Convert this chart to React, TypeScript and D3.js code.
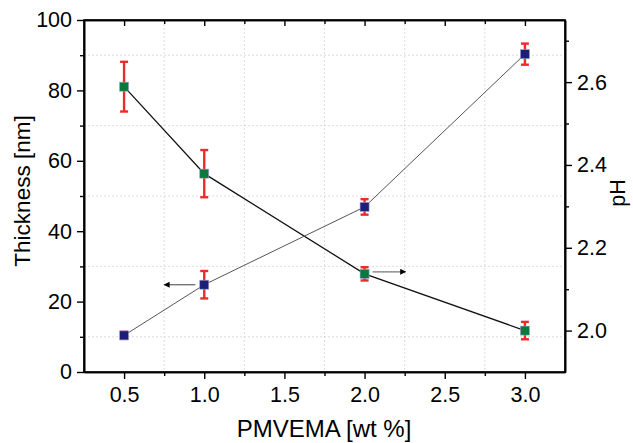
import React, { useEffect, useRef } from "react";
import * as d3 from "d3";

// PMVEMA concentration [wt %]
const conc = [0.5, 1.0, 2.0, 3.0];
// film thickness [nm] (left axis)
const thickness = [10.4, 24.8, 46.9, 90.3];
const thicknessErr = [1.0, 3.9, 2.2, 3.0];
// pH of solution (right axis)
const ph = [2.589, 2.379, 2.137, 2.0];
const phErr = [0.06, 0.057, 0.016, 0.021];

const xTicks = [0.5, 1.0, 1.5, 2.0, 2.5, 3.0];
const xMinor = [0.75, 1.25, 1.75, 2.25, 2.75];
const yTicks = [0, 20, 40, 60, 80, 100];
const yMinor = [10, 30, 50, 70, 90];
const phTicks = [2.0, 2.2, 2.4, 2.6];
const phMinor = [2.1, 2.3, 2.5, 2.7];

const W = 633;
const H = 443;
const margin = { top: 20, right: 68, bottom: 71, left: 84 };
const FONT = "'Liberation Sans', Arial, sans-serif";

export default function App() {
  const svgRef = useRef<SVGSVGElement>(null);

  useEffect(() => {
    const svg = d3.select(svgRef.current);
    svg.selectAll("*").remove();

    const x = d3
      .scaleLinear()
      .domain([0.25, 3.25])
      .range([margin.left, W - margin.right]);
    const y = d3
      .scaleLinear()
      .domain([0, 100])
      .range([H - margin.bottom, margin.top]);
    const yPh = d3
      .scaleLinear()
      .domain([1.9, 2.75])
      .range([H - margin.bottom, margin.top]);

    // dotted grid at minor positions
    const grid = svg.append("g").attr("stroke", "#d4d4d4").attr("stroke-width", 0.8).attr("stroke-dasharray", "2,2");
    grid
      .selectAll("line.v")
      .data(xMinor)
      .join("line")
      .attr("class", "v")
      .attr("x1", (d) => x(d))
      .attr("x2", (d) => x(d))
      .attr("y1", margin.top)
      .attr("y2", H - margin.bottom);
    grid
      .selectAll("line.h")
      .data(yMinor)
      .join("line")
      .attr("class", "h")
      .attr("x1", margin.left)
      .attr("x2", W - margin.right)
      .attr("y1", (d) => y(d))
      .attr("y2", (d) => y(d));

    // axes
    const axisStyle = (g: any) => {
      g.selectAll("path").attr("stroke", "#000").attr("stroke-width", 1.6);
      g.selectAll("line").attr("stroke", "#000").attr("stroke-width", 1.4);
      g.selectAll("text").attr("font-family", FONT).attr("font-size", 21.5).attr("fill", "#000");
    };

    svg
      .append("g")
      .attr("transform", `translate(0,${H - margin.bottom})`)
      .call(d3.axisBottom(x).tickValues(xTicks).tickFormat(d3.format(".1f")).tickSize(7).tickSizeOuter(0).tickPadding(8))
      .call(axisStyle);
    svg
      .append("g")
      .attr("transform", `translate(0,${H - margin.bottom})`)
      .call(d3.axisBottom(x).tickValues(xMinor).tickFormat(() => "").tickSize(4).tickSizeOuter(0))
      .call(axisStyle);

    svg
      .append("g")
      .attr("transform", `translate(0,${margin.top})`)
      .call(d3.axisBottom(x).tickValues(xTicks).tickFormat(() => "").tickSize(6).tickSizeOuter(0))
      .call(axisStyle);
    svg
      .append("g")
      .attr("transform", `translate(0,${margin.top})`)
      .call(d3.axisBottom(x).tickValues(xMinor).tickFormat(() => "").tickSize(4).tickSizeOuter(0))
      .call(axisStyle);

    svg
      .append("g")
      .attr("transform", `translate(${margin.left},0)`)
      .call(d3.axisLeft(y).tickValues(yTicks).tickSize(7).tickSizeOuter(0).tickPadding(5))
      .call(axisStyle);
    svg
      .append("g")
      .attr("transform", `translate(${margin.left},0)`)
      .call(d3.axisLeft(y).tickValues(yMinor).tickFormat(() => "").tickSize(4).tickSizeOuter(0))
      .call(axisStyle);

    svg
      .append("g")
      .attr("transform", `translate(${W - margin.right},0)`)
      .call(d3.axisRight(yPh).tickValues(phTicks).tickFormat(d3.format(".1f")).tickSize(7).tickSizeOuter(0).tickPadding(5))
      .call(axisStyle);
    svg
      .append("g")
      .attr("transform", `translate(${W - margin.right},0)`)
      .call(d3.axisRight(yPh).tickValues(phMinor).tickFormat(() => "").tickSize(4).tickSizeOuter(0))
      .call(axisStyle);

    // frame
    svg
      .append("rect")
      .attr("x", margin.left)
      .attr("y", margin.top)
      .attr("width", W - margin.left - margin.right)
      .attr("height", H - margin.top - margin.bottom)
      .attr("fill", "none")
      .attr("stroke", "#000")
      .attr("stroke-width", 1.6);

    // axis titles
    svg
      .append("text")
      .attr("x", 324)
      .attr("y", 437)
      .attr("text-anchor", "middle")
      .attr("font-family", FONT)
      .attr("font-size", 24)
      .text("PMVEMA [wt %]");
    svg
      .append("text")
      .attr("transform", `translate(30,191) rotate(-90)`)
      .attr("text-anchor", "middle")
      .attr("font-family", FONT)
      .attr("font-size", 22.5)
      .text("Thickness [nm]");
    svg
      .append("text")
      .attr("transform", `translate(625,193) rotate(-90)`)
      .attr("text-anchor", "middle")
      .attr("font-family", FONT)
      .attr("font-size", 21.5)
      .text("pH");

    // series lines
    const thickLine = d3
      .line<number>()
      .x((_, i) => x(conc[i]))
      .y((d) => y(d));
    const phLine = d3
      .line<number>()
      .x((_, i) => x(conc[i]))
      .y((d) => yPh(d));

    svg.append("path").attr("d", phLine(ph)).attr("fill", "none").attr("stroke", "#111").attr("stroke-width", 1.3);
    svg.append("path").attr("d", thickLine(thickness)).attr("fill", "none").attr("stroke", "#555").attr("stroke-width", 1);

    // annotation arrows
    svg
      .append("defs")
      .append("marker")
      .attr("id", "arrowhead")
      .attr("viewBox", "0 0 10 10")
      .attr("refX", 9)
      .attr("refY", 5)
      .attr("markerWidth", 9)
      .attr("markerHeight", 6)
      .attr("markerUnits", "userSpaceOnUse")
      .attr("orient", "auto")
      .append("path")
      .attr("d", "M0,0 L10,5 L0,10 Z")
      .attr("fill", "#000");

    svg
      .append("line")
      .attr("x1", x(conc[1]) - 9)
      .attr("x2", x(conc[1]) - 40)
      .attr("y1", y(thickness[1]))
      .attr("y2", y(thickness[1]))
      .attr("stroke", "#777")
      .attr("stroke-width", 1.4)
      .attr("marker-end", "url(#arrowhead)");
    svg
      .append("line")
      .attr("x1", x(conc[2]) + 8)
      .attr("x2", x(conc[2]) + 41)
      .attr("y1", yPh(ph[2]) - 2)
      .attr("y2", yPh(ph[2]) - 2)
      .attr("stroke", "#777")
      .attr("stroke-width", 1.4)
      .attr("marker-end", "url(#arrowhead)");

    // error bars + markers
    const drawPoints = (vals: number[], errs: number[], scale: any, fill: string) => {
      const g = svg.append("g");
      const eb = g
        .selectAll("g.eb")
        .data(vals)
        .join("g")
        .attr("class", "eb")
        .attr("stroke", "#ee2a2a")
        .attr("stroke-width", 2.4);
      eb.append("line")
        .attr("x1", (_, i) => x(conc[i]))
        .attr("x2", (_, i) => x(conc[i]))
        .attr("y1", (d, i) => scale(d - errs[i]))
        .attr("y2", (d, i) => scale(d + errs[i]));
      eb.append("line")
        .attr("x1", (_, i) => x(conc[i]) - 4)
        .attr("x2", (_, i) => x(conc[i]) + 4)
        .attr("y1", (d, i) => scale(d - errs[i]))
        .attr("y2", (d, i) => scale(d - errs[i]));
      eb.append("line")
        .attr("x1", (_, i) => x(conc[i]) - 4)
        .attr("x2", (_, i) => x(conc[i]) + 4)
        .attr("y1", (d, i) => scale(d + errs[i]))
        .attr("y2", (d, i) => scale(d + errs[i]));
      g.selectAll("rect")
        .data(vals)
        .join("rect")
        .attr("x", (_, i) => x(conc[i]) - 4.5)
        .attr("y", (d) => scale(d) - 4.5)
        .attr("width", 9)
        .attr("height", 9)
        .attr("fill", fill)
        .attr("stroke", "#9aa0c8")
        .attr("stroke-width", 0.6);
    };
    drawPoints(thickness, thicknessErr, y, "#1c1f78");
    drawPoints(ph, phErr, yPh, "#0a7a3c");
  }, []);

  return (
    <svg
      ref={svgRef}
      width={W}
      height={H}
      style={{ position: "absolute", left: 0, top: 0, background: "white" }}
    />
  );
}
